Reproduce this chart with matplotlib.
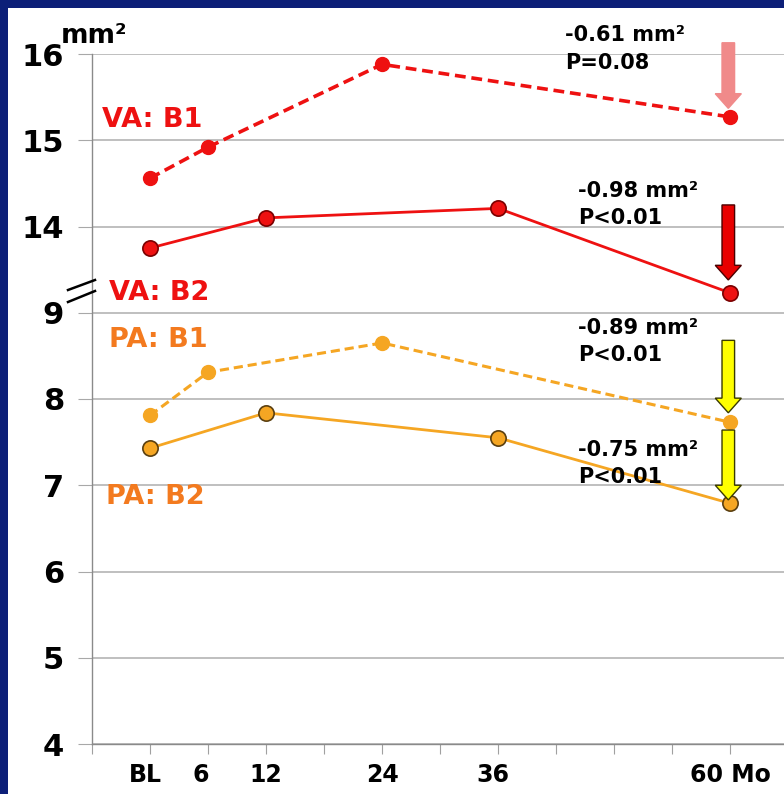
import matplotlib.pyplot as plt
from matplotlib.patches import FancyArrow, Rectangle
from matplotlib.lines import Line2D

# x positions in months (BL = 0)
va_b1_x = [0, 6, 24, 60]
va_b1_y = [14.56, 14.92, 15.88, 15.27]
va_b2_x = [0, 12, 36, 60]
va_b2_y = [13.75, 14.10, 14.21, 13.23]
pa_b1_x = [0, 6, 24, 60]
pa_b1_y = [7.81, 8.31, 8.65, 7.73]
pa_b2_x = [0, 12, 36, 60]
pa_b2_y = [7.43, 7.84, 7.55, 6.79]

# broken axis: 14..16 are drawn one step above 9
BREAK_SHIFT = 4
ytick_pos = [4, 5, 6, 7, 8, 9, 10, 11, 12]
ytick_labels = ["4", "5", "6", "7", "8", "9", "14", "15", "16"]
xlab_pos = [-0.5, 5.2, 12, 24, 35.5, 55.8]
xlab_text = ["BL", "6", "12", "24", "36", "60 Mo"]

# change annotations
changes = ["-0.61 mm²", "-0.98 mm²", "-0.89 mm²", "-0.75 mm²"]
pvals = ["P=0.08", "P<0.01", "P<0.01", "P<0.01"]

NAVY = "#0c1f78"
RED = "#ee1111"
ORANGE = "#f5a623"
LABEL_ORANGE = "#f37a1f"

W, H = 784, 794


def px(x, y):
    return x / W, 1 - y / H


fig = plt.figure(figsize=(7.84, 7.94), dpi=100, facecolor=NAVY)
fig.patches.append(Rectangle(px(8, 794), 1, (794 - 8) / H, transform=fig.transFigure,
                             facecolor="white", edgecolor="none", zorder=-5))

l, b = px(92, 744)
r, t = px(784, 54)
ax = fig.add_axes([l, b, r - l, t - b])
ax.set_zorder(2)
ax.set_facecolor("white")
ax.set_xlim(-6, 65.56)
ax.set_ylim(4, 12)

for s in ("top", "right"):
    ax.spines[s].set_visible(False)
for s in ("left", "bottom"):
    ax.spines[s].set_color("#8a8a8a")
    ax.spines[s].set_linewidth(1)

ax.set_yticks(ytick_pos)
ax.set_yticklabels(ytick_labels, fontsize=22, fontweight="bold")
ax.tick_params(axis="y", length=10, color="#a8a8a8", pad=10)
ax.grid(axis="y", color="#b4b4b4", lw=1.2)
ax.set_axisbelow(True)

ax.set_xticks(range(-6, 66, 6))
ax.set_xticklabels([])
ax.tick_params(axis="x", length=7, direction="out", color="#a0a0a0")
for xp, txt in zip(xlab_pos, xlab_text):
    ax.text(xp, -0.045, txt, transform=ax.get_xaxis_transform(),
            ha="left" if txt.endswith("Mo") else "center", va="center",
            fontsize=17, fontweight="bold", clip_on=False)

vb1 = [v - BREAK_SHIFT for v in va_b1_y]
vb2 = [v - BREAK_SHIFT for v in va_b2_y]

ax.plot(va_b1_x, vb1, color=RED, lw=2.6, ls=(0, (3, 1.6)), marker="o", ms=10,
        mfc=RED, mec=RED, zorder=3, clip_on=False)
ax.plot(va_b2_x, vb2, color=RED, lw=2.0, marker="o", ms=11,
        mfc=RED, mec="#7a0000", mew=1.2, zorder=3)
ax.plot(pa_b1_x, pa_b1_y, color=ORANGE, lw=2.2, ls=(0, (3, 1.6)), marker="o", ms=10,
        mfc=ORANGE, mec=ORANGE, zorder=3)
ax.plot(pa_b2_x, pa_b2_y, color=ORANGE, lw=2.0, marker="o", ms=11,
        mfc=ORANGE, mec="#5a3f10", mew=1.2, zorder=3)

# series labels
ax.text(-5.0, 11.23, "VA: B1", color=RED, fontsize=19.5, fontweight="bold", va="center")
ax.text(-4.2, 9.23, "VA: B2", color=RED, fontsize=19.5, fontweight="bold", va="center")
ax.text(-4.2, 8.68, "PA: B1", color=LABEL_ORANGE, fontsize=19.5, fontweight="bold", va="center")
ax.text(-4.6, 6.86, "PA: B2", color=LABEL_ORANGE, fontsize=19.5, fontweight="bold", va="center")

# change arrows
arrow_top = [12.13, 10.25, 8.68, 7.64]
arrow_tip = [11.37, 9.38, 7.84, 6.83]
arrow_fc = ["#f08a8a", "#e80000", "#ffff00", "#ffff00"]
arrow_ec = ["#f08a8a", "#4a0000", "#3a3a00", "#3a3a00"]
for top, tip, fc, ec in zip(arrow_top, arrow_tip, arrow_fc, arrow_ec):
    ax.add_patch(FancyArrow(59.8, top, 0, tip - top, width=1.3, head_width=2.7,
                            head_length=0.17, length_includes_head=True,
                            facecolor=fc, edgecolor=ec, lw=1.0, zorder=4, clip_on=False))

txt_x = [42.9, 44.3, 44.3, 44.3]
txt_y1 = [12.22, 10.41, 8.82, 7.41]
txt_y2 = [11.90, 10.10, 8.51, 7.10]
for x, y1, y2, c, p in zip(txt_x, txt_y1, txt_y2, changes, pvals):
    ax.text(x, y1, c, fontsize=15, fontweight="bold", va="center", clip_on=False, zorder=5)
    ax.text(x, y2, p, fontsize=15, fontweight="bold", va="center", clip_on=False, zorder=5)

# unit label
fig.text(*px(61, 36), "mm²", fontsize=19, fontweight="bold", va="center", ha="left")

# axis break marks
for (x0, y0, x1, y1) in [(68, 290, 95, 280), (68, 302, 95, 291)]:
    a, c = px(x0, y0)
    bb, d = px(x1, y1)
    fig.add_artist(Line2D([a, bb], [c, d], transform=fig.transFigure,
                          color="black", lw=1.8, zorder=6))

fig.savefig("out.png", dpi=100, facecolor=NAVY)
